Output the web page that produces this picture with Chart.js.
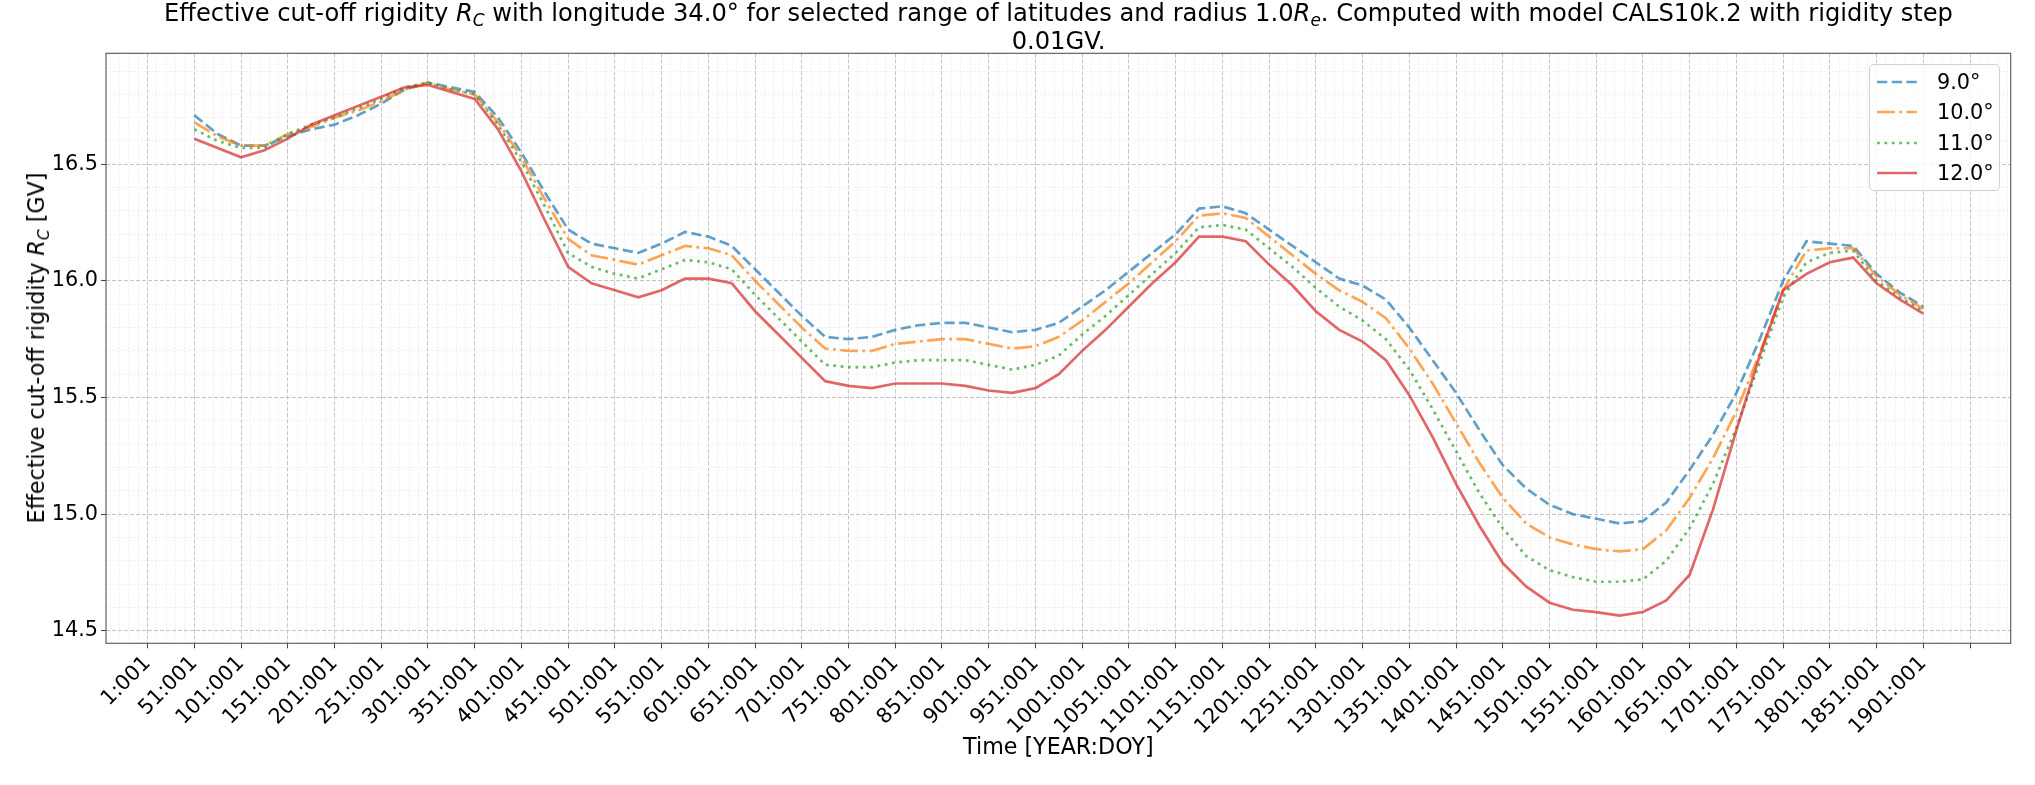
<!DOCTYPE html>
<html>
<head>
<meta charset="utf-8">
<script src="https://cdn.jsdelivr.net/npm/chart.js@4.4.1/dist/chart.umd.min.js"></script>
<style>
  html, body { margin: 0; padding: 0; background: #fff; }
  #wrap { position: relative; width: 2035px; height: 785px; font-family: "DejaVu Sans", sans-serif; color: #000; }
  #title { position: absolute; left: 56px; width: 2005px; top: 0; text-align: center; font-size: 24.2px; line-height: 27.5px; white-space: nowrap; }
  #ylab { position: absolute; left: 36px; top: 348px; transform: translate(-50%, -50%) rotate(-90deg); font-size: 22.2px; white-space: nowrap; }
  sub { font-size: 70%; line-height: 0; vertical-align: -0.3em; }
  #legend { position: absolute; left: 1869px; top: 64px; width: 131px; height: 127px; box-sizing: border-box;
            border: 1px solid #d0d0d0; border-radius: 5px; background: rgba(255,255,255,0.8); font-size: 20.8px; }
  .row { position: absolute; left: 0; height: 30px; line-height: 30px; width: 100%; }
  .row svg { position: absolute; left: 6px; top: 10px; }
  .row span { position: absolute; left: 67px; top: 0; }
</style>
</head>
<body>
<div id="wrap">
  <canvas id="chart" width="2035" height="785"></canvas>
  <div id="title">Effective cut-off rigidity <i>R</i><sub><i>C</i></sub> with longitude 34.0° for selected range of latitudes and radius 1.0<i>R</i><sub><i>e</i></sub>. Computed with model CALS10k.2 with rigidity step<br>0.01GV.</div>
  <div id="ylab">Effective cut-off rigidity <i>R</i><sub><i>C</i></sub> [GV]</div>
  <div id="legend"></div>
</div>
<script>
// years sampled along the time axis
const years = [51, 76, 101, 126, 151, 176, 201, 226, 251, 276, 301, 326, 351, 376, 401, 426, 451, 476, 501, 526,
  551, 576, 601, 626, 651, 676, 701, 726, 751, 776, 801, 826, 851, 876, 901, 926, 951, 976, 1001, 1026,
  1051, 1076, 1101, 1126, 1151, 1176, 1201, 1226, 1251, 1276, 1301, 1326, 1351, 1376, 1401, 1426, 1451, 1476, 1501, 1526,
  1551, 1576, 1601, 1626, 1651, 1676, 1701, 1726, 1751, 1776, 1801, 1826, 1851, 1876, 1901];

const lat9 = [16.71, 16.63, 16.58, 16.58, 16.62, 16.65, 16.67, 16.71, 16.76, 16.82, 16.85, 16.83, 16.81, 16.70, 16.55, 16.38, 16.22, 16.16, 16.14, 16.12,
  16.16, 16.21, 16.19, 16.15, 16.05, 15.95, 15.85, 15.76, 15.75, 15.76, 15.79, 15.81, 15.82, 15.82, 15.80, 15.78, 15.79, 15.82, 15.89, 15.96,
  16.04, 16.12, 16.20, 16.31, 16.32, 16.29, 16.22, 16.15, 16.08, 16.01, 15.98, 15.92, 15.80, 15.66, 15.52, 15.36, 15.21, 15.11, 15.04, 15.00,
  14.98, 14.96, 14.97, 15.05, 15.19, 15.34, 15.52, 15.75, 16.00, 16.17, 16.16, 16.15, 16.03, 15.95, 15.89];

const lat10 = [16.68, 16.62, 16.58, 16.58, 16.63, 16.66, 16.70, 16.73, 16.77, 16.82, 16.85, 16.82, 16.80, 16.68, 16.53, 16.35, 16.18, 16.11, 16.09, 16.07,
  16.11, 16.15, 16.14, 16.11, 16.00, 15.90, 15.80, 15.71, 15.70, 15.70, 15.73, 15.74, 15.75, 15.75, 15.73, 15.71, 15.72, 15.76, 15.83, 15.91,
  15.99, 16.08, 16.17, 16.28, 16.29, 16.27, 16.19, 16.11, 16.03, 15.96, 15.91, 15.84, 15.71, 15.56, 15.39, 15.22, 15.07, 14.96, 14.90, 14.87,
  14.85, 14.84, 14.85, 14.93, 15.07, 15.24, 15.44, 15.69, 15.96, 16.13, 16.14, 16.14, 16.02, 15.94, 15.88];

const lat11 = [16.65, 16.60, 16.57, 16.57, 16.63, 16.67, 16.70, 16.74, 16.78, 16.83, 16.85, 16.82, 16.80, 16.67, 16.51, 16.32, 16.12, 16.06, 16.03, 16.01,
  16.05, 16.09, 16.08, 16.05, 15.94, 15.84, 15.74, 15.64, 15.63, 15.63, 15.65, 15.66, 15.66, 15.66, 15.64, 15.62, 15.64, 15.68, 15.77, 15.85,
  15.94, 16.03, 16.12, 16.23, 16.24, 16.22, 16.14, 16.06, 15.97, 15.89, 15.83, 15.75, 15.62, 15.45, 15.27, 15.09, 14.94, 14.82, 14.76, 14.73,
  14.71, 14.71, 14.72, 14.80, 14.94, 15.13, 15.37, 15.65, 15.93, 16.08, 16.12, 16.13, 16.00, 15.93, 15.87];

const lat12 = [16.61, 16.57, 16.53, 16.56, 16.61, 16.67, 16.71, 16.75, 16.79, 16.83, 16.84, 16.81, 16.78, 16.65, 16.47, 16.26, 16.06, 15.99, 15.96, 15.93,
  15.96, 16.01, 16.01, 15.99, 15.87, 15.77, 15.67, 15.57, 15.55, 15.54, 15.56, 15.56, 15.56, 15.55, 15.53, 15.52, 15.54, 15.60, 15.70, 15.79,
  15.89, 15.99, 16.08, 16.19, 16.19, 16.17, 16.07, 15.98, 15.87, 15.79, 15.74, 15.66, 15.51, 15.33, 15.13, 14.95, 14.79, 14.69, 14.62, 14.59,
  14.58, 14.565, 14.58, 14.63, 14.74, 15.02, 15.36, 15.68, 15.96, 16.03, 16.08, 16.10, 15.99, 15.92, 15.86];

const seriesLabels = ['9.0°', '10.0°', '11.0°', '12.0°'];

const xTickValues = [1, 51, 101, 151, 201, 251, 301, 351, 401, 451, 501, 551, 601, 651, 701, 751, 801, 851, 901, 951,
  1001, 1051, 1101, 1151, 1201, 1251, 1301, 1351, 1401, 1451, 1501, 1551, 1601, 1651, 1701, 1751, 1801, 1851, 1901, 1951];
const xTickLabels = ['1:001', '51:001', '101:001', '151:001', '201:001', '251:001', '301:001', '351:001', '401:001', '451:001',
  '501:001', '551:001', '601:001', '651:001', '701:001', '751:001', '801:001', '851:001', '901:001', '951:001',
  '1001:001', '1051:001', '1101:001', '1151:001', '1201:001', '1251:001', '1301:001', '1351:001', '1401:001', '1451:001',
  '1501:001', '1551:001', '1601:001', '1651:001', '1701:001', '1751:001', '1801:001', '1851:001', '1901:001', ''];
const yTickValues = [14.5, 15.0, 15.5, 16.0, 16.5];
const yTickLabels = ['14.5', '15.0', '15.5', '16.0', '16.5'];

const colors = ['rgba(31,119,180,0.7)', 'rgba(255,127,14,0.7)', 'rgba(44,160,44,0.7)', 'rgba(214,39,40,0.7)'];
const dashes = [[10.3, 4.4], [17.8, 4.4, 2.8, 4.4], [2.8, 4.6], []];
const lineW = 2.7;

// minor ticks: every 10 on x, every 0.1 on y
const xAll = [];
for (let v = -39; v <= 1991; v += 10) xAll.push(v);
const yAll = [];
for (let i = 0; i <= 24; i++) yAll.push(Math.round((14.5 + i * 0.1) * 10) / 10);

const isXMajor = v => xTickValues.includes(v);
const isYMajor = v => yTickValues.some(t => Math.abs(t - v) < 1e-6);

Chart.defaults.font.family = '"DejaVu Sans", sans-serif';
Chart.defaults.font.size = 20.8;
Chart.defaults.color = '#000';

const frame = {
  id: 'frame',
  afterDraw(chart) {
    const { ctx, chartArea: a } = chart;
    ctx.save();
    ctx.strokeStyle = '#555';
    ctx.lineWidth = 1.1;
    ctx.strokeRect(a.left, a.top, a.right - a.left, a.bottom - a.top);
    ctx.restore();
  }
};

const allSeries = [lat9, lat10, lat11, lat12];

new Chart(document.getElementById('chart'), {
  type: 'line',
  data: {
    datasets: allSeries.map((vals, i) => ({
      label: seriesLabels[i],
      data: years.map((x, j) => ({ x: x, y: vals[j] })),
      borderColor: colors[i],
      borderWidth: lineW,
      borderDash: dashes[i],
      pointRadius: 0,
      tension: 0,
      fill: false,
      order: 3 - i
    }))
  },
  options: {
    responsive: false,
    devicePixelRatio: 1,
    animation: false,
    layout: { padding: { top: 53.3, right: 24.3, bottom: 20, left: 36 } },
    plugins: {
      legend: { display: false },
      tooltip: { enabled: false },
      title: { display: false }
    },
    scales: {
      x: {
        type: 'linear',
        min: -43.5,
        max: 1994.5,
        afterBuildTicks: s => { s.ticks = xAll.map(v => ({ value: v })); },
        afterFit: s => { s.height = 121.7; },
        ticks: {
          autoSkip: false,
          minRotation: 45,
          maxRotation: 45,
          padding: 3,
          callback: v => { const k = xTickValues.indexOf(v); return k >= 0 ? xTickLabels[k] : ''; }
        },
        grid: {
          color: c => (c.tick && isXMajor(c.tick.value)) ? '#c4c4c4' : '#ececec',
          lineWidth: 1,
          tickLength: 5,
          tickColor: c => (c.tick && isXMajor(c.tick.value)) ? '#444' : 'rgba(0,0,0,0)'
        },
        border: {
          display: false,
          dash: c => (c.tick && isXMajor(c.tick.value)) ? [4, 2] : [1.5, 2]
        },
        title: { display: true, text: 'Time [YEAR:DOY]', font: { size: 22.2 }, padding: { top: 0, bottom: 3 } }
      },
      y: {
        min: 14.446,
        max: 16.976,
        afterBuildTicks: s => { s.ticks = yAll.map(v => ({ value: v })); },
        afterFit: s => { s.width = 70; },
        ticks: {
          autoSkip: false,
          padding: 3,
          callback: v => { const k = yTickValues.findIndex(t => Math.abs(t - v) < 1e-6); return k >= 0 ? yTickLabels[k] : ''; }
        },
        grid: {
          color: c => (c.tick && isYMajor(c.tick.value)) ? '#c4c4c4' : '#ececec',
          lineWidth: 1,
          tickLength: 5,
          tickColor: c => (c.tick && isYMajor(c.tick.value)) ? '#444' : 'rgba(0,0,0,0)'
        },
        border: {
          display: false,
          dash: c => (c.tick && isYMajor(c.tick.value)) ? [4, 2] : [1.5, 2]
        }
      }
    }
  },
  plugins: [frame]
});

// legend box, built from the same series settings
const legend = document.getElementById('legend');
seriesLabels.forEach((lab, i) => {
  const row = document.createElement('div');
  row.className = 'row';
  row.style.top = (1.7 + i * 30.5) + 'px';
  row.innerHTML = '<svg width="42" height="10"><line x1="1" y1="5" x2="41" y2="5" stroke="' + colors[i] +
    '" stroke-width="' + lineW + '" stroke-dasharray="' + (dashes[i].length ? dashes[i].join(',') : 'none') +
    '"/></svg><span>' + lab + '</span>';
  legend.appendChild(row);
});
</script>
</body>
</html>
